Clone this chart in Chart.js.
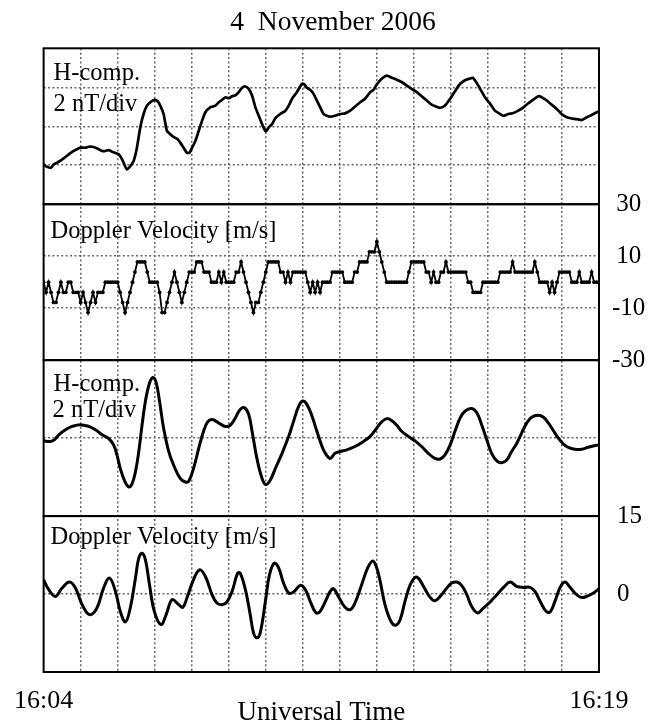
<!DOCTYPE html>
<html><head><meta charset="utf-8">
<script src="https://cdn.jsdelivr.net/npm/chart.js@4"></script>
<style>html,body{margin:0;padding:0;background:#fff}canvas{display:block}</style>
</head><body>
<canvas id="c" width="660" height="725"></canvas>
<script>
// ---------- text ----------
const titleText = '4  November 2006';
const xAxisTitle = 'Universal Time';
const xTickLabels = {0: '16:04', 15: '16:19'};   // minutes after 16:04
const panelLabels = [
  ['H-comp.', '2 nT/div'],
  ['Doppler Velocity [m/s]'],
  ['H-comp.', '2 nT/div'],
  ['Doppler Velocity [m/s]']
];

// ---------- panel 1: raw H-component (minutes after 16:04, nT, relative) ----------
const hRawTimes = [0,0.09,0.20,0.27,0.41,0.54,0.68,0.77,0.90,0.99,1.13,1.22,1.31,1.40,1.49,1.58,1.67,1.76,1.85,1.94,2.03,2.12,2.18,2.25,2.34,2.43,2.52,2.61,2.70,2.79,2.88,3.00,3.08,3.15,3.24,3.33,3.42,3.51,3.60,3.69,3.78,3.87,3.94,4.01,4.10,4.19,4.28,4.37,4.50,4.64,4.73,4.82,4.91,5.00,5.09,5.18,5.27,5.36,5.45,5.54,5.63,5.72,5.81,5.90,6.00,6.08,6.17,6.26,6.39,6.53,6.62,6.71,6.84,6.98,7.04,7.11,7.20,7.29,7.38,7.47,7.56,7.65,7.74,7.87,8.01,8.14,8.28,8.41,8.55,8.68,8.82,8.91,9.00,9.13,9.27,9.40,9.54,9.67,9.81,9.94,10.08,10.21,10.35,10.48,10.60,10.71,10.84,10.98,11.11,11.25,11.38,11.50,11.59,11.68,11.79,11.92,12.06,12.19,12.33,12.42,12.55,12.69,12.82,12.96,13.09,13.23,13.36,13.45,13.59,13.72,13.86,13.99,14.13,14.26,14.40,14.53,14.67,14.80,14.94,15.00];
const hRawValues = [2.04,1.92,1.87,2.04,2.18,2.35,2.56,2.69,2.82,2.90,2.90,2.95,2.95,2.90,2.82,2.73,2.73,2.78,2.69,2.63,2.56,2.30,2.04,1.78,1.95,2.21,2.90,3.94,4.63,5.06,5.23,5.35,5.28,5.06,4.63,3.77,3.59,3.45,3.37,3.16,2.90,2.64,2.64,2.90,3.25,3.77,4.28,4.72,4.97,5.06,5.23,5.35,5.49,5.44,5.54,5.58,5.75,5.98,6.04,5.92,5.58,4.97,4.54,4.11,3.73,3.94,4.11,4.42,4.63,4.80,5.06,5.41,5.75,6.18,6.15,5.98,5.87,5.66,5.32,4.97,4.63,4.54,4.49,4.54,4.63,4.66,4.80,5.01,5.23,5.41,5.75,5.87,6.15,6.44,6.60,6.49,6.39,6.27,6.09,5.92,5.75,5.54,5.32,5.11,5.01,4.94,5.06,5.41,5.80,6.18,6.36,6.44,6.49,6.27,5.92,5.49,5.15,4.80,4.63,4.54,4.63,4.68,4.80,4.97,5.18,5.37,5.54,5.49,5.32,5.11,4.89,4.63,4.46,4.40,4.37,4.32,4.46,4.58,4.72,4.77];

// ---------- panel 2: raw Doppler velocity (m/s), one sample every 4 s from 16:04:00 ----------
const dopRawStepSec = 4;
const dopRawValues = [
  0,-3.9,0,-3.9,-7.8,-7.8,-3.9,0,-3.9,-3.9,0,0,-3.9,-3.9,-3.9,-7.8,
  -3.9,-7.8,-11.7,-7.8,-3.9,-7.8,-3.9,-3.9,-3.9,0,0,0,0,0,0,-3.9,
  -7.8,-11.7,-7.8,-3.9,0,3.9,7.8,7.8,7.8,7.8,3.9,0,0,0,0,-3.9,
  -11.7,-11.7,-7.8,-3.9,0,3.9,0,-3.9,-7.8,-3.9,0,3.9,3.9,3.9,7.8,7.8,
  7.8,3.9,3.9,3.9,0,0,0,3.9,0,3.9,0,0,0,0,3.9,3.9,
  7.8,3.9,0,-3.9,-7.8,-11.7,-7.8,-7.8,-3.9,0,3.9,7.8,7.8,7.8,7.8,7.8,
  3.9,3.9,0,3.9,0,3.9,3.9,3.9,3.9,3.9,3.9,0,-3.9,0,-3.9,0,
  -3.9,0,0,0,0,3.9,3.9,3.9,3.9,3.9,0,0,0,0,3.9,3.9,
  7.8,7.8,7.8,7.8,11.7,11.7,11.7,15.6,11.7,7.8,3.9,0,0,0,0,0,
  0,0,0,0,3.9,7.8,7.8,7.8,7.8,7.8,7.8,3.9,3.9,0,3.9,0,
  0,3.9,3.9,7.8,3.9,3.9,3.9,3.9,3.9,3.9,3.9,3.9,0,0,-3.9,-3.9,
  -3.9,-3.9,0,0,0,0,0,0,0,3.9,3.9,3.9,3.9,3.9,7.8,3.9,
  3.9,3.9,3.9,3.9,3.9,3.9,3.9,7.8,3.9,0,0,0,0,-3.9,0,-3.9,
  0,3.9,3.9,3.9,3.9,3.9,0,0,0,3.9,0,0,0,0,3.9,0,
  0,0
];

// ---------- panel 3: filtered H-component (minutes, nT) ----------
const hFiltTimes = [0,0.18,0.29,0.41,0.59,0.77,0.99,1.22,1.40,1.58,1.76,1.89,1.98,2.07,2.18,2.30,2.39,2.48,2.57,2.66,2.75,2.85,2.95,3.04,3.13,3.24,3.38,3.51,3.69,3.83,3.92,4.05,4.19,4.32,4.43,4.55,4.66,4.77,4.91,5.04,5.18,5.31,5.43,5.54,5.63,5.76,5.90,6.00,6.12,6.26,6.44,6.62,6.75,6.89,7.00,7.11,7.25,7.38,7.52,7.61,7.74,7.87,8.01,8.19,8.41,8.64,8.82,9.00,9.13,9.27,9.40,9.54,9.67,9.85,10.03,10.21,10.39,10.57,10.71,10.84,10.98,11.11,11.25,11.38,11.56,11.70,11.83,11.97,12.10,12.24,12.37,12.51,12.64,12.78,12.91,13.05,13.18,13.36,13.50,13.63,13.77,13.90,14.04,14.17,14.35,14.53,14.71,14.90,15.00];
const hFiltValues = [-0.14,-0.17,-0.09,0.17,0.43,0.60,0.69,0.60,0.43,0.17,-0.03,-0.35,-0.86,-1.55,-2.16,-2.50,-2.33,-1.73,-0.69,0.69,1.90,2.76,3.11,2.85,1.90,0.52,-0.69,-1.38,-2.07,-2.25,-2.21,-1.55,-0.52,0.35,0.83,0.95,0.86,0.73,0.60,0.66,1.04,1.47,1.55,1.21,0.35,-1.04,-2.07,-2.38,-2.16,-1.55,-0.78,0.09,0.86,1.64,1.90,1.73,1.12,0.35,-0.43,-0.78,-1.04,-0.78,-0.69,-0.60,-0.43,-0.17,0.09,0.52,0.83,1.00,0.90,0.66,0.35,0.09,-0.14,-0.43,-0.78,-1.04,-1.07,-0.86,-0.35,0.35,1.04,1.38,1.52,1.30,0.69,-0.09,-0.78,-1.17,-1.26,-1.12,-0.69,-0.26,0.26,0.78,1.07,1.17,1.07,0.78,0.38,0.00,-0.31,-0.48,-0.57,-0.57,-0.47,-0.38,-0.35];

// ---------- panel 4: filtered Doppler velocity (minutes, m/s) ----------
const dopFiltTimes = [0,0.14,0.32,0.50,0.70,0.86,1.04,1.24,1.44,1.62,1.78,1.94,2.07,2.21,2.34,2.48,2.57,2.66,2.75,2.86,2.99,3.17,3.31,3.47,3.65,3.76,3.87,4.03,4.21,4.37,4.55,4.68,4.82,4.95,5.09,5.24,5.31,5.45,5.58,5.67,5.76,5.85,5.99,6.10,6.23,6.35,6.48,6.62,6.75,6.93,7.07,7.20,7.36,7.47,7.61,7.74,7.83,7.96,8.14,8.28,8.41,8.59,8.75,8.89,9.00,9.09,9.22,9.38,9.51,9.63,9.76,9.90,10.03,10.12,10.26,10.44,10.57,10.71,10.89,11.02,11.16,11.29,11.43,11.56,11.72,11.88,12.06,12.24,12.42,12.60,12.78,12.96,13.14,13.27,13.41,13.57,13.68,13.81,13.95,14.08,14.20,14.35,14.51,14.67,14.85,15.00];
const dopFiltValues = [2.74,0.83,-0.45,1.15,2.30,1.15,-2.04,-3.96,-2.68,1.15,3.06,0.51,-3.32,-5.36,-2.68,3.06,6.89,7.85,6.57,1.79,-3.32,-5.87,-3.96,-1.08,-2.04,-2.55,-0.77,2.43,4.66,3.38,-0.13,-1.72,-2.04,-1.53,0.51,4.02,4.02,0.83,-3.96,-7.47,-8.42,-7.47,-1.40,3.70,5.93,4.98,2.11,0.19,0.38,1.66,0.83,-1.40,-3.64,-3.32,-1.40,0.51,1.02,-0.45,-2.55,-3.00,-1.72,1.79,4.98,6.38,4.98,2.43,-2.04,-5.23,-6.00,-4.91,-1.40,1.79,3.19,3.06,1.47,-0.64,-1.28,-0.45,1.15,2.11,2.30,1.66,-0.13,-2.36,-3.64,-2.68,-1.53,-0.13,1.28,2.30,1.47,1.28,1.28,0.51,-1.40,-3.32,-3.45,-1.40,1.28,2.30,1.47,0.19,-0.64,-0.45,0.19,1.02];

// ---------- axis ticks ----------
const hRawTicks = [0, 2, 4, 6, 8];
const dopRawTicks = [-30, -10, 10, 30];
const hFiltTicks = [-4, 0, 4];
const dopFiltTicks = [-15, 0, 15];
const dopRawLabels = {'-30': '-30', '-10': '-10', '10': '10', '30': '30'};
const dopFiltLabels = {'15': '15', '0': '0'};

// ---------- build ----------
const SERIF = '"Liberation Serif", "Times New Roman", serif';
const toXY = (ts, vs) => ts.map((t, i) => ({x: t, y: vs[i]}));
const dopRawData = dopRawValues.map((v, i) => ({x: i * dopRawStepSec / 60, y: v}));

const gridColor = '#666';
const gridDash = [2, 2.4];
function yGrid(ticks) {
  return {
    drawTicks: false,
    color: c => (c.tick && (c.tick.value === ticks[0] || c.tick.value === ticks[ticks.length - 1])) ? 'rgba(0,0,0,0)' : gridColor,
    lineWidth: 1.5
  };
}
function yAxis(ticks, labelMap, align, pad) {
  return {
    type: 'linear', position: 'right', stack: 'panels', stackWeight: 1,
    min: ticks[0], max: ticks[ticks.length - 1],
    afterBuildTicks: s => { s.ticks = ticks.map(v => ({value: v})); },
    afterFit: s => { s.width = 61; },
    grid: yGrid(ticks),
    border: {display: false, dash: gridDash},
    ticks: {
      autoSkip: false, crossAlign: align, padding: pad, color: '#000',
      font: {family: SERIF, size: 25},
      callback: v => (labelMap && labelMap[String(v)] !== undefined) ? labelMap[String(v)] : ''
    }
  };
}

const panelTextPos = [
  [[10, 32], [10, 63]],
  [[7, 34]],
  [[10, 31], [9, 57]],
  [[7, 28]]
];
const panelDecor = {
  id: 'panelDecor',
  afterDatasetsDraw(chart) {
    const {ctx, chartArea} = chart;
    const ids = ['y1', 'y2', 'y3', 'y4'];
    ctx.save();
    ctx.fillStyle = '#000';
    ctx.font = '24.5px ' + SERIF;
    ctx.textAlign = 'left';
    ctx.textBaseline = 'alphabetic';
    ids.forEach((id, p) => {
      const s = chart.scales[id];
      panelLabels[p].forEach((txt, k) => {
        const [dx, dy] = panelTextPos[p][k];
        ctx.fillText(txt, chartArea.left + dx, s.top + dy);
      });
    });
    ctx.strokeStyle = '#000';
    ctx.lineWidth = 2;
    ids.forEach(id => {
      const s = chart.scales[id];
      ctx.strokeRect(chartArea.left, s.top, chartArea.right - chartArea.left, s.bottom - s.top);
    });
    ctx.restore();
  }
};

new Chart(document.getElementById('c'), {
  type: 'line',
  data: {
    datasets: [
      {data: toXY(hRawTimes, hRawValues), yAxisID: 'y1', borderColor: '#000', borderWidth: 2.7, pointRadius: 0, tension: 0.2, fill: false},
      {data: dopRawData, yAxisID: 'y2', borderColor: '#000', borderWidth: 1.8, pointRadius: 1.9, pointBorderWidth: 0, pointBackgroundColor: '#000', tension: 0, fill: false},
      {data: toXY(hFiltTimes, hFiltValues), yAxisID: 'y3', borderColor: '#000', borderWidth: 3, pointRadius: 0, tension: 0.4, fill: false},
      {data: toXY(dopFiltTimes, dopFiltValues), yAxisID: 'y4', borderColor: '#000', borderWidth: 3, pointRadius: 0, tension: 0.4, fill: false}
    ]
  },
  options: {
    responsive: false, animation: false, devicePixelRatio: 1,
    layout: {padding: {left: 6, right: 0, top: 0, bottom: 0}},
    plugins: {
      legend: {display: false}, tooltip: {enabled: false},
      title: {display: true, text: titleText, color: '#000', font: {family: SERIF, size: 27.5, weight: 'normal', lineHeight: 1.2}, padding: {top: 6.5, bottom: 8.8}}
    },
    scales: {
      x: {
        type: 'linear', min: 0, max: 15,
        afterBuildTicks: s => { s.ticks = Array.from({length: 16}, (_, i) => ({value: i})); },
        afterFit: s => { s.height = 53; },
        grid: {drawTicks: false, lineWidth: 1.5, color: c => (c.tick && (c.tick.value === 0 || c.tick.value === 15)) ? 'rgba(0,0,0,0)' : gridColor},
        border: {display: false, dash: gridDash},
        ticks: {autoSkip: false, maxRotation: 0, minRotation: 0, padding: 14, color: '#000', font: {family: SERIF, size: 26},
          callback: v => xTickLabels[v] || ''},
        title: {display: true, text: xAxisTitle, color: '#000', font: {family: SERIF, size: 27, lineHeight: 0.9}, padding: {top: 0, bottom: 0}}
      },
      yLeft: {
        type: 'linear', position: 'left', display: true,
        afterFit: s => { s.width = 37; },
        grid: {display: false}, border: {display: false}, ticks: {display: false}
      },
      y1: yAxis(hRawTicks, null, 'near', 0),
      y2: yAxis(dopRawTicks, dopRawLabels, 'center', 13),
      y3: yAxis(hFiltTicks, null, 'near', 0),
      y4: yAxis(dopFiltTicks, dopFiltLabels, 'near', 18)
    }
  },
  plugins: [panelDecor]
});
</script>
</body></html>
